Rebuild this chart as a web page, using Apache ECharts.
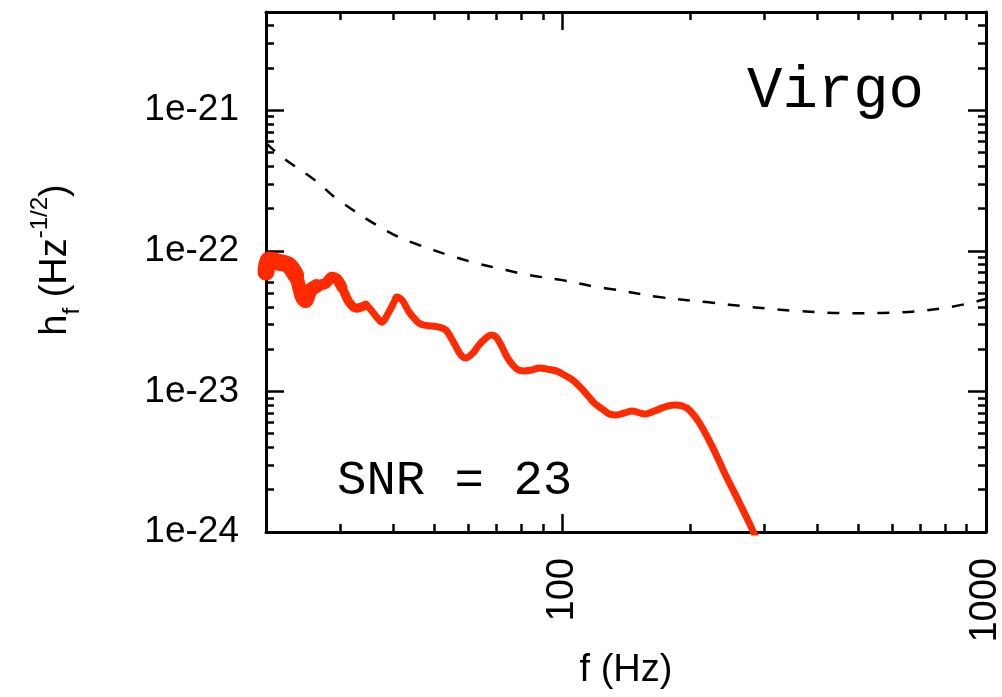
<!DOCTYPE html>
<html>
<head>
<meta charset="utf-8">
<title>Virgo</title>
<script src="https://cdn.jsdelivr.net/npm/echarts@6/dist/echarts.min.js"></script>
<style>
html, body {margin: 0; padding: 0; background: #fff;}
#main {width: 1002px; height: 697px;}
</style>
</head>
<body>
<div id="main"></div>
<script>
// signal spectrum (red): f in Hz, h_f in Hz^-1/2
var signalFreq = [20, 20.3, 21.4, 22.6, 23.5, 24.3, 24.8, 25.5, 26.3, 27.7, 28.6, 29.4, 30.2, 31.4, 32.6,
    33.5, 34.4, 35.4, 36.5, 37.5, 39.0, 40.1, 40.7, 41.9, 43.5, 44.7, 45.9, 47.2, 49.0, 51.2,
    53.2, 54.7, 56.2, 57.7, 59.3, 61.9, 63.6, 66.1, 68.0, 69.8, 71.7, 73.7, 75.8, 78.3, 81.3,
    84.9, 88.2, 92.2, 96.8, 101.1, 105.6, 109.7, 114.6, 119.0, 124.3, 129.1, 134.2, 140.1, 146.4,
    156.3, 165.0, 174.2, 184.0, 192.1, 199.6, 210.8, 226.3, 244.2, 262.1, 279.8, 286.0];
var signalAmp = [7.06e-23, 8.59e-23, 8.31e-23, 7.91e-23, 6.72e-23, 4.69e-23, 4.39e-23, 5.26e-23, 5.61e-23, 5.89e-23,
    6.50e-23, 6.29e-23, 5.52e-23, 4.32e-23, 3.91e-23, 3.98e-23, 4.11e-23, 3.79e-23, 3.38e-23, 3.11e-23,
    3.67e-23, 4.32e-23, 4.69e-23, 4.46e-23, 3.67e-23, 3.32e-23, 3.06e-23, 2.96e-23, 2.92e-23, 2.87e-23,
    2.73e-23, 2.40e-23, 2.07e-23, 1.81e-23, 1.73e-23, 1.91e-23, 2.14e-23, 2.40e-23, 2.52e-23, 2.44e-23,
    2.14e-23, 1.81e-23, 1.59e-23, 1.44e-23, 1.40e-23, 1.42e-23, 1.47e-23, 1.44e-23, 1.40e-23, 1.31e-23,
    1.21e-23, 1.09e-23, 9.43e-24, 8.27e-24, 7.50e-24, 6.91e-24, 6.80e-24, 7.02e-24, 7.25e-24, 6.91e-24,
    7.25e-24, 7.74e-24, 8.00e-24, 7.87e-24, 7.38e-24, 5.96e-24, 4.02e-24, 2.46e-24, 1.61e-24, 1.07e-24, 9.2e-25];

// detector noise curve (dashed)
var noiseFreq = [20, 22.0, 26.1, 29.7, 39.0, 45.9, 54.1, 62.6, 73.7, 83.6, 100, 117.7, 131.3, 169.4,
    219, 280, 363, 482, 633, 822, 1000];
var noiseAmp = [5.83e-22, 4.56e-22, 3.18e-22, 2.29e-22, 1.36e-22, 1.10e-22, 9.31e-23, 8.18e-23, 7.30e-23,
    6.72e-23, 6.19e-23, 5.61e-23, 5.34e-23, 4.69e-23, 4.32e-23, 3.98e-23, 3.73e-23, 3.60e-23, 3.66e-23,
    3.98e-23, 4.54e-23];

var xRange = [20, 1000];
var yRange = [1e-24, 5e-21];
var xMajorTicks = [100, 1000];
var xTickLabels = ['100', '1000'];
var xMinorTicks = [30, 40, 50, 60, 70, 80, 90, 200, 300, 400, 500, 600, 700, 800, 900];
var yMajorTicks = [1e-24, 1e-23, 1e-22, 1e-21];
var yTickLabels = ['1e-24', '1e-23', '1e-22', '1e-21'];
var yMinorSteps = [2, 3, 4, 5, 6, 7, 8, 9];

var detectorName = 'Virgo';
var snrText = 'SNR = 23';

// echarts rounds numbers below ~1e-20 to zero, so the y axis works in units of 1e-24
var yUnit = 1e-24;
function toUnit(v) {
    return Math.round(v / yUnit * 1e6) / 1e6;
}

var yMajorScaled = yMajorTicks.map(toUnit);
var yRangeScaled = yRange.map(toUnit);
var yMinorScaled = [];
for (var d = 0; d < yMajorTicks.length; d++) {
    for (var k = 0; k < yMinorSteps.length; k++) {
        var v = toUnit(yMinorSteps[k] * yMajorTicks[d]);
        if (v < yRangeScaled[1] * 0.999) {
            yMinorScaled.push(v);
        }
    }
}

function pairs(xs, ys, maxX) {
    var out = [];
    for (var i = 0; i < xs.length; i++) {
        if (maxX === undefined || xs[i] <= maxX) {
            out.push([xs[i], toUnit(ys[i])]);
        }
    }
    return out;
}

function pickLabel(values, labels, v) {
    for (var i = 0; i < values.length; i++) {
        if (Math.abs(Math.log10(values[i]) - Math.log10(v)) < 1e-6) {
            return labels[i];
        }
    }
    return '';
}

var sans = '"Liberation Sans", Arial, Helvetica, sans-serif';
var mono = '"Liberation Mono", "Courier New", monospace';
var red = '#ff2a00';

function frameAxis(position, range, ticks, tickLen, withLine) {
    return {
        type: 'log',
        logBase: 10,
        position: position,
        min: range[0],
        max: range[1],
        axisLine: {show: withLine, onZero: false, lineStyle: {color: '#000', width: 3}},
        axisTick: {show: true, inside: true, length: tickLen, customValues: ticks,
            lineStyle: {color: '#000', width: 2.5}},
        axisLabel: {show: false},
        splitLine: {show: false},
        minorTick: {show: false},
        minorSplitLine: {show: false},
        silent: true
    };
}

// the low-frequency end of the red trace is a noisy, wider band
function bandSeries(maxFreq, width) {
    return {
        name: 'signal band',
        type: 'line',
        xAxisIndex: 0,
        yAxisIndex: 0,
        data: pairs(signalFreq, signalAmp, maxFreq),
        smooth: 0.3,
        showSymbol: false,
        lineStyle: {color: red, width: width, cap: 'round', join: 'round'},
        z: 4
    };
}

var myChart = echarts.init(document.getElementById('main'));

var xMain = frameAxis('bottom', xRange, xMajorTicks, 18, true);
xMain.axisLabel = {
    show: true,
    customValues: xMajorTicks,
    rotate: 90,
    margin: 26,
    fontSize: 38,
    fontFamily: sans,
    color: '#000',
    formatter: function (value) {
        return pickLabel(xMajorTicks, xTickLabels, value);
    }
};
xMain.name = 'f (Hz)';
xMain.nameLocation = 'middle';
xMain.nameGap = 120;
xMain.nameTextStyle = {fontSize: 38, fontFamily: sans, color: '#000'};

var yMain = frameAxis('left', yRangeScaled, yMajorScaled, 18, true);
yMain.axisLabel = {
    show: true,
    customValues: yMajorScaled,
    margin: 27,
    fontSize: 37,
    fontFamily: sans,
    color: '#000',
    formatter: function (value) {
        return pickLabel(yMajorScaled, yTickLabels, value);
    }
};
yMain.name = '{m|h}{sub|f}{m| (Hz}{sup|-1/2}{m|)}';
yMain.nameLocation = 'middle';
yMain.nameRotate = 90;
yMain.nameGap = 182;
yMain.nameTextStyle = {
    fontFamily: sans,
    color: '#000',
    padding: [0, 0, 0, 24],
    rich: {
        m: {fontSize: 38, fontFamily: sans, color: '#000', lineHeight: 56},
        sub: {fontSize: 24, fontFamily: sans, color: '#000', lineHeight: 24, verticalAlign: 'bottom'},
        sup: {fontSize: 24, fontFamily: sans, color: '#000', lineHeight: 24, verticalAlign: 'top'}
    }
};

var option = {
    backgroundColor: '#fff',
    animation: false,
    grid: {
        left: 266,
        right: 16,
        top: 12,
        bottom: 165,
        containLabel: false,
        outerBoundsMode: 'none'
    },
    xAxis: [
        xMain,
        frameAxis('bottom', xRange, xMinorTicks, 8, false),
        frameAxis('top', xRange, xMajorTicks, 18, true),
        frameAxis('top', xRange, xMinorTicks, 8, false)
    ],
    yAxis: [
        yMain,
        frameAxis('left', yRangeScaled, yMinorScaled, 8, false),
        frameAxis('right', yRangeScaled, yMajorScaled, 18, true),
        frameAxis('right', yRangeScaled, yMinorScaled, 8, false)
    ],
    graphic: [
        {
            type: 'text',
            left: 747,
            top: 62,
            silent: true,
            style: {text: detectorName, font: 'normal 59px ' + mono, fill: '#000'}
        },
        {
            type: 'text',
            left: 337,
            top: 457,
            silent: true,
            style: {text: snrText, font: 'normal 49px ' + mono, fill: '#000'}
        }
    ],
    series: [
        {
            name: 'noise',
            type: 'line',
            xAxisIndex: 0,
            yAxisIndex: 0,
            data: pairs(noiseFreq, noiseAmp),
            smooth: 0.4,
            showSymbol: false,
            lineStyle: {color: '#000', width: 2.5, type: [12, 13]},
            z: 3
        },
        bandSeries(23.5, 17),
        bandSeries(26.3, 14),
        bandSeries(30.2, 11),
        bandSeries(34.4, 9),
        {
            name: 'signal',
            type: 'line',
            xAxisIndex: 0,
            yAxisIndex: 0,
            data: pairs(signalFreq, signalAmp),
            smooth: 0.3,
            showSymbol: false,
            lineStyle: {color: red, width: 7, join: 'round'},
            z: 5
        }
    ]
};

myChart.setOption(option);

window.onresize = function () {
    if (myChart) {
        myChart.resize();
    }
};
</script>
</body>
</html>
